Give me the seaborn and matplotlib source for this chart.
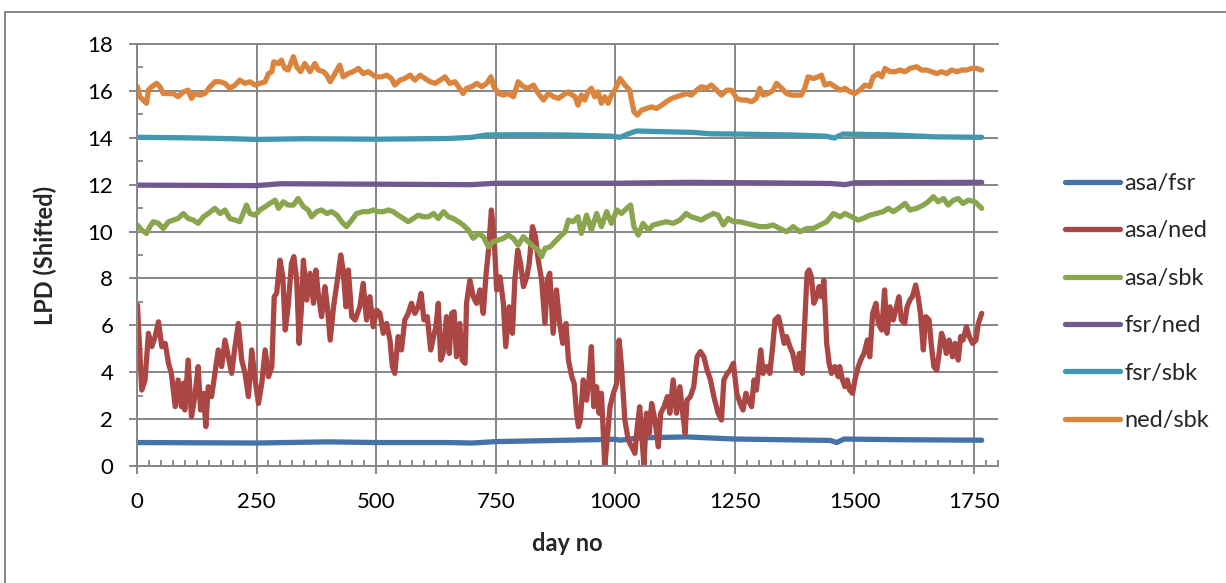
import matplotlib
matplotlib.use("Agg")
import matplotlib.pyplot as plt
from matplotlib.patches import Rectangle
from matplotlib.ticker import MultipleLocator
import pandas as pd
import seaborn as sns

# values: (day no, LPD shifted)
asa_fsr = [(0, 1.0), (250, 0.98), (400, 1.03), (500, 1.0), (650, 1.0), (700, 0.98), (750, 1.04),
           (900, 1.1), (1000, 1.14), (1010, 1.1), (1050, 1.2), (1150, 1.24), (1250, 1.15), (1350, 1.12),
           (1450, 1.09), (1463, 1.0), (1478, 1.15), (1600, 1.12), (1766, 1.1)]

asa_ned = [(1, 6.87), (10, 3.24), (17, 3.67), (24, 5.66), (31, 5.09), (38, 5.52), (45, 6.15), (52, 5.09),
           (59, 5.23), (66, 4.38), (72, 3.95), (80, 2.53), (86, 3.67), (93, 2.53), (97, 3.53), (100, 2.39),
           (107, 4.52), (114, 2.10), (121, 2.96), (128, 4.24), (133, 2.39), (139, 3.10), (144, 1.68),
           (149, 3.38), (156, 2.96), (163, 3.95), (170, 4.95), (177, 4.24), (184, 5.37), (191, 4.66),
           (198, 3.95), (205, 5.09), (212, 6.08), (219, 4.52), (226, 3.95), (233, 2.96), (240, 4.95),
           (247, 3.67), (254, 2.67), (261, 3.53), (268, 4.95), (275, 3.81), (282, 4.24), (287, 7.22),
           (292, 7.36), (299, 8.78), (305, 8.07), (310, 5.80), (316, 6.79), (323, 8.64), (328, 8.93),
           (334, 7.93), (339, 5.23), (344, 6.79), (348, 8.78), (355, 7.08), (362, 8.22), (369, 6.94),
           (374, 8.36), (379, 7.36), (386, 6.37), (393, 7.65), (398, 6.79), (404, 5.37), (411, 6.79),
           (419, 7.93), (426, 9.00), (431, 8.36), (437, 6.79), (442, 8.36), (449, 6.37), (456, 6.23),
           (466, 6.79), (473, 7.79), (480, 6.23), (487, 7.22), (494, 5.94), (501, 6.65), (508, 6.51),
           (515, 5.66), (522, 6.08), (529, 5.37), (534, 4.24), (539, 3.95), (546, 5.52), (553, 4.95),
           (560, 6.23), (567, 6.51), (574, 6.94), (581, 6.51), (588, 6.79), (594, 7.36), (600, 6.23),
           (607, 6.37), (614, 4.95), (620, 5.52), (625, 5.94), (630, 6.94), (635, 4.52), (640, 4.80),
           (647, 6.37), (653, 4.80), (658, 6.51), (663, 6.58), (668, 4.66), (675, 6.08), (680, 4.52),
           (686, 4.38), (689, 6.94), (696, 7.93), (703, 7.22), (710, 6.94), (717, 7.51), (724, 6.51),
           (730, 8.22), (735, 9.21), (741, 10.92), (747, 9.64), (752, 7.51), (759, 8.07), (766, 6.94),
           (771, 5.09), (778, 6.79), (785, 5.66), (790, 7.93), (796, 9.21), (802, 8.64), (808, 7.65),
           (815, 8.07), (820, 8.64), (827, 10.21), (833, 9.78), (839, 8.78), (846, 7.93), (853, 6.08),
           (858, 7.93), (863, 8.22), (870, 5.66), (877, 7.51), (883, 6.23), (890, 5.23), (897, 6.08),
           (902, 4.52), (909, 3.81), (914, 3.53), (919, 2.25), (923, 1.68), (927, 1.96), (933, 3.67),
           (940, 2.81), (945, 3.67), (950, 5.09), (955, 2.53), (961, 3.38), (966, 2.25), (971, 3.10),
           (975, 1.39), (978, 0.0), (983, 1.11), (989, 2.53), (996, 3.10), (1003, 3.53), (1008, 5.37),
           (1013, 4.24), (1020, 1.96), (1027, 1.11), (1034, 0.82), (1041, 0.54), (1046, 1.68), (1051, 2.53),
           (1057, 0.82), (1060, 0.04), (1065, 2.25), (1071, 1.39), (1076, 2.67), (1083, 1.96), (1090, 0.82),
           (1095, 2.25), (1102, 2.53), (1109, 2.96), (1114, 2.25), (1121, 3.67), (1128, 2.25), (1135, 3.38),
           (1141, 2.25), (1146, 1.39), (1150, 2.81), (1157, 2.96), (1164, 3.38), (1171, 4.66), (1178, 4.88),
           (1185, 4.66), (1192, 4.09), (1199, 3.67), (1206, 2.96), (1215, 2.25), (1222, 1.96), (1227, 3.67),
           (1234, 3.95), (1240, 4.09), (1247, 4.38), (1254, 3.10), (1261, 2.67), (1267, 2.39), (1273, 3.10),
           (1278, 2.81), (1285, 2.53), (1290, 3.67), (1295, 3.24), (1304, 4.95), (1309, 3.95), (1316, 4.24),
           (1323, 3.95), (1329, 5.09), (1334, 6.23), (1341, 6.37), (1346, 5.94), (1353, 5.23), (1358, 5.52),
           (1365, 5.09), (1371, 4.80), (1378, 4.09), (1385, 4.80), (1391, 3.95), (1396, 6.08), (1401, 8.22),
           (1405, 8.36), (1410, 8.07), (1415, 6.94), (1421, 7.22), (1426, 7.65), (1431, 7.22), (1436, 7.93),
           (1442, 5.23), (1447, 4.38), (1452, 3.95), (1459, 4.24), (1466, 3.81), (1469, 4.24), (1475, 3.67),
           (1480, 3.38), (1485, 3.67), (1490, 3.24), (1496, 3.10), (1501, 3.67), (1508, 4.24), (1513, 4.52),
           (1520, 4.80), (1527, 5.37), (1532, 4.66), (1538, 6.51), (1545, 6.94), (1550, 6.08), (1557, 5.80),
           (1563, 7.51), (1568, 5.66), (1574, 6.79), (1581, 6.23), (1586, 6.65), (1593, 7.22), (1598, 6.23),
           (1605, 6.08), (1610, 6.79), (1616, 7.08), (1621, 7.22), (1628, 7.72), (1633, 7.22), (1638, 6.51),
           (1644, 4.95), (1649, 6.37), (1656, 6.23), (1661, 5.09), (1666, 4.24), (1672, 4.09), (1677, 4.80),
           (1682, 5.66), (1687, 5.37), (1692, 4.80), (1698, 5.37), (1705, 4.66), (1710, 5.23), (1717, 4.52),
           (1722, 5.52), (1727, 5.37), (1734, 5.94), (1740, 5.52), (1747, 5.23), (1754, 5.37), (1759, 6.08),
           (1766, 6.51)]

asa_sbk = [(1, 10.28), (10, 10.06), (20, 9.92), (27, 10.21), (34, 10.42), (45, 10.35), (55, 10.13),
           (66, 10.42), (76, 10.49), (86, 10.56), (97, 10.77), (107, 10.56), (118, 10.49), (128, 10.35),
           (139, 10.63), (149, 10.77), (163, 10.99), (174, 10.77), (184, 10.92), (194, 10.56), (205, 10.49),
           (215, 10.42), (229, 11.13), (236, 10.77), (247, 10.70), (257, 10.92), (268, 11.06), (278, 11.20),
           (289, 11.34), (296, 10.99), (306, 11.27), (316, 11.13), (327, 11.13), (337, 11.41), (348, 11.06),
           (358, 10.92), (365, 10.63), (376, 10.85), (386, 10.92), (397, 10.77), (407, 10.85), (418, 10.70),
           (428, 10.42), (438, 10.21), (449, 10.49), (459, 10.77), (473, 10.85), (484, 10.85), (494, 10.92),
           (505, 10.85), (515, 10.85), (526, 10.92), (536, 10.85), (546, 10.70), (557, 10.56), (567, 10.42),
           (578, 10.56), (588, 10.70), (599, 10.63), (609, 10.63), (620, 10.77), (630, 10.56), (641, 10.85),
           (651, 10.63), (661, 10.56), (672, 10.42), (682, 10.28), (693, 10.06), (703, 9.71), (714, 9.92),
           (724, 9.78), (735, 9.35), (745, 9.57), (756, 9.64), (766, 9.71), (776, 9.85), (787, 9.71),
           (797, 9.42), (808, 9.78), (818, 9.57), (829, 9.35), (839, 9.21), (846, 8.93), (853, 9.28),
           (864, 9.35), (874, 9.57), (884, 9.78), (895, 9.99), (902, 10.49), (912, 10.42), (922, 10.63),
           (929, 9.92), (940, 10.70), (950, 10.06), (961, 10.77), (971, 10.21), (982, 10.85), (992, 10.35),
           (1003, 10.92), (1013, 10.77), (1024, 10.99), (1032, 11.13), (1039, 10.21), (1048, 9.85),
           (1058, 10.35), (1069, 10.06), (1079, 10.28), (1093, 10.35), (1107, 10.42), (1121, 10.35),
           (1135, 10.49), (1148, 10.77), (1159, 10.63), (1170, 10.56), (1180, 10.49), (1191, 10.63),
           (1205, 10.77), (1215, 10.70), (1226, 10.28), (1236, 10.56), (1247, 10.42), (1260, 10.42),
           (1274, 10.35), (1288, 10.28), (1302, 10.21), (1316, 10.21), (1330, 10.28), (1344, 10.13),
           (1358, 9.99), (1372, 10.21), (1386, 9.99), (1400, 10.13), (1414, 10.13), (1428, 10.28),
           (1442, 10.42), (1456, 10.77), (1470, 10.63), (1480, 10.77), (1494, 10.63), (1508, 10.49),
           (1518, 10.56), (1532, 10.70), (1546, 10.77), (1560, 10.85), (1571, 10.99), (1581, 10.85),
           (1592, 10.99), (1606, 11.20), (1616, 10.92), (1630, 10.99), (1644, 11.13), (1654, 11.27),
           (1665, 11.49), (1675, 11.27), (1686, 11.41), (1696, 11.13), (1707, 11.34), (1717, 11.41),
           (1727, 11.20), (1738, 11.34), (1752, 11.27), (1759, 11.13), (1766, 10.99)]

fsr_ned = [(0, 11.98), (250, 11.96), (300, 12.04), (500, 12.02), (700, 12.0), (750, 12.06), (1000, 12.06),
           (1150, 12.1), (1300, 12.08), (1450, 12.05), (1480, 12.0), (1500, 12.08), (1766, 12.1)]

fsr_sbk = [(0, 14.02), (100, 14.0), (200, 13.96), (250, 13.93), (350, 13.96), (500, 13.94), (650, 13.97),
           (700, 14.02), (730, 14.12), (800, 14.13), (900, 14.12), (990, 14.07), (1010, 14.02), (1030, 14.19),
           (1045, 14.29), (1100, 14.26), (1163, 14.23), (1200, 14.17), (1250, 14.16), (1370, 14.12),
           (1440, 14.07), (1458, 13.99), (1476, 14.16), (1580, 14.12), (1670, 14.04), (1766, 14.02)]

ned_sbk = [(1, 16.18), (6, 15.75), (13, 15.61), (20, 15.47), (24, 16.03), (31, 16.18), (41, 16.32),
           (48, 16.18), (55, 15.89), (66, 15.89), (76, 15.89), (86, 15.75), (97, 15.96), (107, 16.03),
           (114, 15.68), (121, 15.89), (132, 15.82), (142, 15.89), (153, 16.18), (163, 16.39), (174, 16.39),
           (184, 16.32), (194, 16.11), (205, 16.25), (215, 16.46), (226, 16.32), (236, 16.39), (247, 16.25),
           (257, 16.32), (268, 16.39), (275, 16.74), (282, 16.82), (286, 17.24), (296, 17.17), (302, 17.31),
           (309, 16.96), (316, 16.89), (327, 17.46), (334, 17.03), (342, 16.82), (351, 17.17), (362, 16.82),
           (372, 17.17), (379, 16.89), (390, 16.82), (397, 16.67), (404, 16.39), (414, 16.74), (424, 17.10),
           (431, 16.60), (442, 16.74), (452, 16.82), (463, 16.96), (473, 16.74), (484, 16.82), (494, 16.67),
           (501, 16.60), (512, 16.60), (522, 16.67), (532, 16.53), (539, 16.25), (550, 16.46), (560, 16.53),
           (571, 16.67), (581, 16.46), (592, 16.67), (602, 16.53), (613, 16.39), (623, 16.32), (634, 16.46),
           (644, 16.60), (654, 16.32), (665, 16.39), (672, 16.18), (682, 15.89), (689, 16.11), (700, 16.18),
           (710, 16.32), (721, 16.18), (731, 16.32), (740, 16.60), (746, 16.18), (756, 15.89), (766, 15.82),
           (776, 15.89), (787, 15.75), (797, 16.39), (808, 16.18), (818, 16.11), (829, 16.25), (839, 15.89),
           (850, 15.61), (860, 15.89), (871, 15.75), (881, 15.68), (891, 15.82), (902, 15.96), (905, 15.89),
           (916, 15.75), (922, 15.39), (929, 15.82), (936, 15.61), (943, 15.96), (950, 16.11), (957, 15.75),
           (964, 15.96), (971, 15.47), (978, 15.75), (985, 15.47), (992, 15.82), (999, 16.03), (1010, 16.53),
           (1020, 16.25), (1030, 16.03), (1039, 15.11), (1046, 14.97), (1055, 15.18), (1065, 15.25),
           (1076, 15.32), (1086, 15.25), (1097, 15.39), (1107, 15.54), (1118, 15.68), (1128, 15.75),
           (1139, 15.82), (1149, 15.89), (1159, 15.82), (1170, 16.03), (1180, 16.18), (1191, 16.11),
           (1201, 16.25), (1212, 16.03), (1222, 15.82), (1233, 16.03), (1243, 16.03), (1254, 15.68),
           (1264, 15.61), (1274, 15.61), (1285, 15.54), (1295, 15.68), (1302, 16.11), (1309, 15.82),
           (1320, 15.89), (1330, 16.03), (1337, 16.32), (1348, 16.11), (1358, 15.89), (1369, 15.82),
           (1379, 15.82), (1389, 15.82), (1396, 16.11), (1403, 16.60), (1414, 16.53), (1424, 16.60),
           (1431, 16.67), (1438, 16.25), (1449, 16.32), (1459, 16.18), (1470, 16.03), (1480, 16.11),
           (1491, 15.96), (1501, 15.89), (1511, 16.03), (1522, 16.25), (1532, 16.18), (1539, 16.60),
           (1550, 16.74), (1557, 16.60), (1564, 16.96), (1574, 16.82), (1585, 16.82), (1595, 16.89),
           (1606, 16.82), (1616, 16.96), (1630, 17.03), (1640, 16.89), (1651, 16.89), (1661, 16.82),
           (1672, 16.74), (1682, 16.82), (1693, 16.74), (1703, 16.89), (1714, 16.82), (1724, 16.89),
           (1734, 16.89), (1745, 16.96), (1755, 16.96), (1766, 16.89)]

series_names = ["asa/fsr", "asa/ned", "asa/sbk", "fsr/ned", "fsr/sbk", "ned/sbk"]
series_data = [asa_fsr, asa_ned, asa_sbk, fsr_ned, fsr_sbk, ned_sbk]
series_colors = ["#4572A7", "#AA4643", "#89A54E", "#71588F", "#4198AF", "#DB843D"]

x_ticks = [0, 250, 500, 750, 1000, 1250, 1500, 1750]
y_ticks = [0, 2, 4, 6, 8, 10, 12, 14, 16, 18]

frames = []
for name, pts in zip(series_names, series_data):
    d = pd.DataFrame(pts, columns=["day", "lpd"])
    d["pair"] = name
    frames.append(d)
df = pd.concat(frames, ignore_index=True)

sns.set_theme(style="white")
plt.rcParams["font.family"] = ["Lato", "DejaVu Sans"]

grid_col = "#868686"

fig = plt.figure(figsize=(12.26, 5.83), dpi=100)
ax = fig.add_axes([0.1117, 0.2007, 0.7023, 0.7238])

sns.lineplot(data=df, x="day", y="lpd", hue="pair", hue_order=series_names,
             palette=dict(zip(series_names, series_colors)), estimator=None, sort=False,
             lw=3.8, solid_capstyle="round", ax=ax)

ax.set_xlim(0, 1800)
ax.set_ylim(0, 18)
ax.set_xticks(x_ticks)
ax.set_yticks(y_ticks)
ax.xaxis.set_minor_locator(MultipleLocator(25))
ax.yaxis.set_minor_locator(MultipleLocator(1))
ax.grid(True, which="major", color=grid_col, lw=1.4)
ax.set_axisbelow(True)

# excel style: major ticks outside, minor ticks inside
ax.tick_params(which="major", direction="out", length=6, width=1.4, color=grid_col,
               labelsize=16, labelcolor="black", bottom=True, left=True)
ax.tick_params(axis="x", which="major", pad=13)
ax.tick_params(axis="y", which="major", pad=11)
ax.tick_params(which="minor", direction="in", length=4, width=1.3, color=grid_col,
               bottom=True, left=True)

for side in ["left", "bottom", "top"]:
    ax.spines[side].set_color(grid_col)
    ax.spines[side].set_linewidth(1.4)
ax.spines["right"].set_visible(False)

ax.set_xlabel("day no", fontsize=17, fontweight="bold", labelpad=14)
ax.set_ylabel("LPD (Shifted)", fontsize=17, fontweight="bold", labelpad=22)

handles, labels = ax.get_legend_handles_labels()
ax.legend(handles, labels, loc="center left", bbox_to_anchor=(1065 / 1226, 0.482),
          bbox_transform=fig.transFigure, frameon=False, fontsize=17,
          handlelength=2.33, handletextpad=0.17, labelspacing=1.12, borderpad=0, borderaxespad=0)

# chart area border
fig.add_artist(Rectangle((5 / 1226, -0.1), 1.0, (583 - 12) / 583 + 0.1, transform=fig.transFigure,
                         fill=False, ec=grid_col, lw=1.4))

fig.savefig("out.png", dpi=100)
